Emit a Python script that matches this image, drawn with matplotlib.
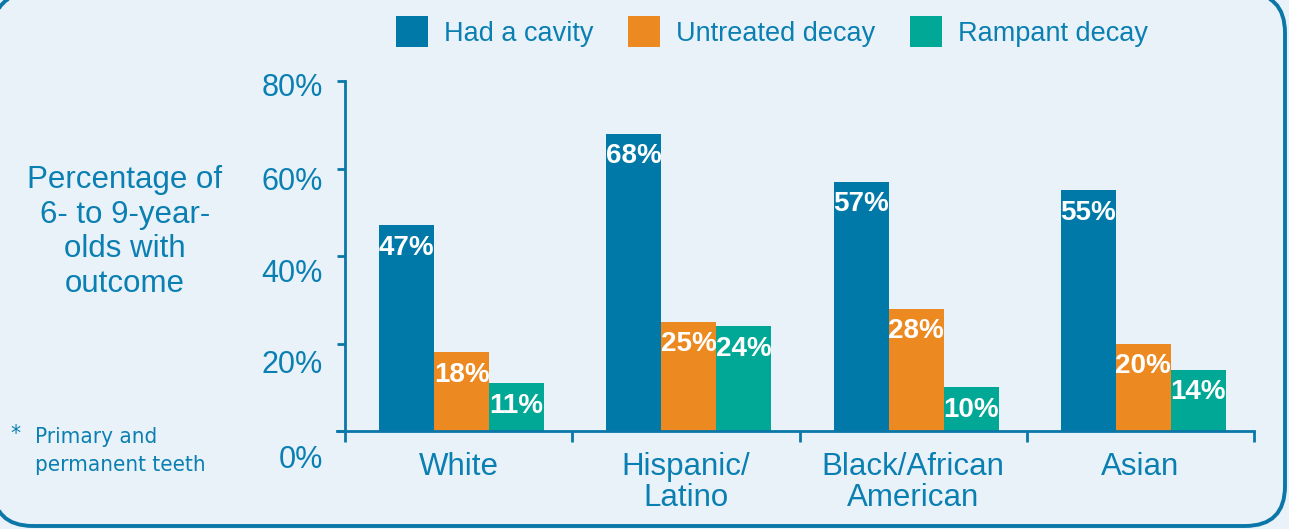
#!/usr/bin/env python

import numpy as np
import matplotlib as mpl
mpl.use('Agg')
from matplotlib import pyplot as plt
from matplotlib.patches import Patch, FancyBboxPatch, Polygon
from matplotlib import transforms

groups = ['White', 'Hispanic/\nLatino', 'Black/African\nAmerican', 'Asian']
series = ['Had a cavity', 'Untreated decay', 'Rampant decay']
had_cavity = [47, 68, 57, 55]
untreated = [18, 25, 28, 20]
rampant = [11, 24, 10, 14]
yticks = [0, 20, 40, 60, 80]
ytick_labels = ['0%', '20%', '40%', '60%', '80%']

# style
bg = '#eaf2f9'
txt = '#0a7fb2'
axc = '#0a77a8'
colors = ['#0079a9', '#ec8a21', '#00a895']
plt.rcParams['font.family'] = ['Liberation Sans', 'DejaVu Sans']
cond = dict(family='DejaVu Sans', fontstretch='condensed')

W, H = 1289, 529
fig = plt.figure(figsize=(W / 100, H / 100), dpi=100, facecolor=bg)

# rounded frame: overlay axes (pixel units) a bit larger than the figure
fw, fh = 1292, 533
bgax = fig.add_axes([-7 / W, 3 / H, fw / W, fh / H], zorder=-1)
bgax.set_xlim(0, fw)
bgax.set_ylim(0, fh)
bgax.axis('off')
box = FancyBboxPatch((0, 0), fw, fh, boxstyle='round,pad=0,rounding_size=40')
# curves -> line segments, so that clipping at the canvas edge behaves
outline = box.get_path().to_polygons(closed_only=True)[0]
bgax.add_patch(Polygon(outline, closed=True, fill=False, edgecolor=axc,
                       lw=2.8, clip_on=False))

ax = fig.add_axes([345 / W, 1 - 431 / H, 909 / W, 350 / H])
ax.set_facecolor('none')

x = np.arange(len(groups))
bw = 0.242
for i, (vals, c) in enumerate(zip([had_cavity, untreated, rampant], colors)):
    xs = x + (i - 1) * bw + 0.013
    ax.bar(xs, vals, width=bw, color=c, zorder=2)
    for xx, v in zip(xs, vals):
        ax.annotate('%d%%' % v, (xx, v), xytext=(0, -7), textcoords='offset points',
                    ha='center', va='top', color='white', fontsize=20,
                    fontweight='bold', zorder=3)

ax.set_xlim(-0.5, len(groups) - 0.5)
ax.set_ylim(0, 80)

for s in ['top', 'right']:
    ax.spines[s].set_visible(False)
for s in ['left', 'bottom']:
    ax.spines[s].set_color(axc)
    ax.spines[s].set_linewidth(2)
ax.spines['bottom'].set_bounds(-0.535, len(groups) - 0.5)

ax.set_yticks(yticks)
ax.set_yticklabels(ytick_labels)
ax.tick_params(axis='y', length=6, width=2, color=axc, labelcolor=txt,
               labelsize=22, pad=10)
# label offsets as drawn in the original
for lab, dy in zip(ax.get_yticklabels(), [26, 18, 14, 10, 3]):
    lab.set_transform(lab.get_transform() +
                      transforms.ScaledTranslation(0, -dy / 100, fig.dpi_scale_trans))

ax.set_xticks(x)
ax.set_xticklabels(groups, linespacing=1.05)
ax.set_xticks(np.arange(len(groups) + 1) - 0.5, minor=True)
ax.tick_params(axis='x', which='major', length=0, labelcolor=txt, labelsize=22.5, pad=15)
ax.tick_params(axis='x', which='minor', length=8, width=2, color=axc)

# y label and footnote
fig.text(125 / W, 1 - 232 / H, 'Percentage of\n6- to 9-year-\nolds with\noutcome',
         ha='center', va='center', color=txt, fontsize=22.5, linespacing=1.2)
fig.text(10 / W, 1 - 434 / H, '*', ha='left', va='center', color=txt,
         fontsize=16, **cond)
fig.text(35 / W, 1 - 451 / H, 'Primary and\npermanent teeth', ha='left', va='center',
         color=txt, fontsize=16, linespacing=1.5, **cond)

handles = [Patch(facecolor=c, edgecolor='none') for c in colors]
fig.legend(handles, series, loc='upper left', bbox_to_anchor=(396 / W, 1 - 16 / H),
           ncol=3, frameon=False, fontsize=19.5, labelcolor=txt, borderpad=0,
           borderaxespad=0, handlelength=1.18, handleheight=1.39, handletextpad=0.6,
           columnspacing=1.27)

plt.savefig('out.png', dpi=100, facecolor=bg)
plt.close()
